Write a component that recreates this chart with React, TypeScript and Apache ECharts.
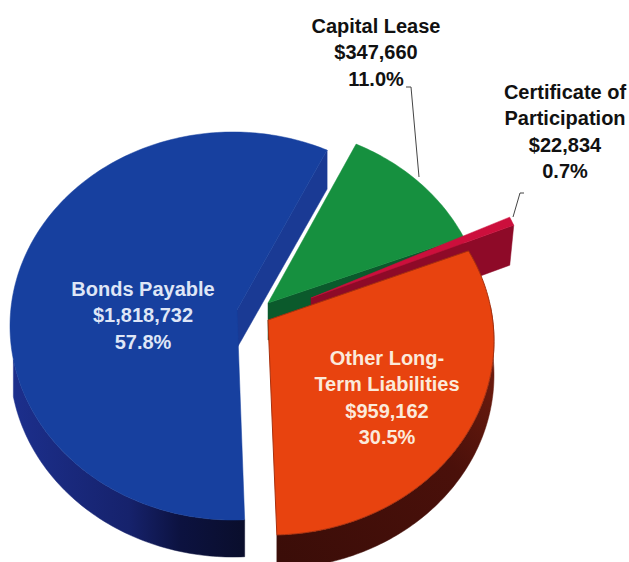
import React, { useEffect, useRef } from "react";
import * as echarts from "echarts";

const names = ["Bonds Payable", "Capital Lease", "Certificate of Participation", "Other Long-Term Liabilities"];
const values = [1818732, 347660, 22834, 959162];
const percents = ["57.8%", "11.0%", "0.7%", "30.5%"];

const START_ANGLE = 87;
const RX = 223;
const RY = 194;

// index follows the data order: ellipse centre, projected apex, depth, small perspective trims
const sliceGeo = [
  { cx: 233, cy: 326, ax: 237, ay: 310, depth: 37, trim: 0, trimEnd: 0 },
  { cx: 262, cy: 320, ax: 268, ay: 303, depth: 37, trim: 0, trimEnd: 0 },
  { cx: 308, cy: 300, ax: 311, ay: 298, depth: 40, trim: 0, trimEnd: 0 },
  { cx: 271, cy: 341, ax: 268, ay: 320, depth: 34, trim: -5, trimEnd: 1.5 },
];
const sliceColors = ["#17409f", "#16903f", "#cc0f3c", "#e8430f"];
const wallColors = ["#1a3a94", "#0b5a2c", "#8e0a28", "#3d0e08"];

const labelBlocks = [
  { x: 143, y: 289, size: 20, color: "#dfe6f6", lines: ["Bonds Payable", "$1,818,732", "57.8%"] },
  { x: 376, y: 26, size: 20, color: "#111111", lines: ["Capital Lease", "$347,660", "11.0%"] },
  { x: 565, y: 92, size: 20, color: "#111111", lines: ["Certificate of", "Participation", "$22,834", "0.7%"] },
  { x: 387, y: 358, size: 20, color: "#fbeadb", lines: ["Other Long-", "Term Liabilities", "$959,162", "30.5%"] },
];

const total = values.reduce((a, b) => a + b, 0);
const spans: [number, number][] = [];
{
  let a = START_ANGLE;
  values.forEach((v) => {
    const s = (v / total) * 360;
    spans.push([a, a + s]);
    a += s;
  });
}

const arc = (g: any, a0: number, a1: number, dy = 0) => {
  const pts: number[][] = [];
  const n = Math.max(2, Math.ceil(Math.abs(a1 - a0)));
  for (let i = 0; i <= n; i++) {
    const t = ((a0 + ((a1 - a0) * i) / n) * Math.PI) / 180;
    pts.push([g.cx + RX * Math.cos(t), g.cy + RY * Math.sin(t) + dy]);
  }
  return pts;
};

const renderSlice = (params: any, api: any) => {
  const i = params.dataIndex;
  api.value(0);
  const g = sliceGeo[i];
  const a0 = spans[i][0] + g.trim;
  const a1 = spans[i][1] + g.trimEnd;
  const top = arc(g, a0, a1);
  const children: any[] = [];
  const poly = (points: number[][], fill: any, stroke?: string) =>
    children.push({
      type: "polygon",
      shape: { points },
      style: { fill, stroke: stroke || fill, lineWidth: stroke ? 1 : 0.5 },
    });

  if (i === 0) {
    // radial wall facing the gap, then rim from the left side down to the bottom
    const corner = top[top.length - 1];
    poly(
      [corner, [corner[0], corner[1] + 39], [g.ax, g.ay + 38], [g.ax, g.ay]],
      wallColors[0]
    );
    const rim = arc(g, 170, a0);
    poly(
      [...rim, ...rim.map((p) => [p[0], p[1] + g.depth]).reverse()],
      new echarts.graphic.LinearGradient(0, 0, 1, 0, [
        { offset: 0, color: "#1c2f8c" },
        { offset: 0.5, color: "#16226c" },
        { offset: 0.72, color: "#0c1240" },
        { offset: 1, color: "#0a0e2c" },
      ])
    );
  } else if (i === 1) {
    const c = top[top.length - 1];
    poly([[g.ax, g.ay], c, [c[0], c[1] + g.depth], [g.ax, g.ay + g.depth]], wallColors[1]);
  } else if (i === 2) {
    const c = top[top.length - 1];
    poly([[g.ax, g.ay], c, [c[0] - 4, c[1] + g.depth], [g.ax, g.ay + g.depth]], wallColors[2]);
  } else {
    const rim = arc(g, 350, a1);
    poly(
      [...rim, ...rim.map((p) => [p[0], p[1] + g.depth]).reverse()],
      new echarts.graphic.LinearGradient(0, 1, 1, 0, [
        { offset: 0, color: "#3a0d08" },
        { offset: 0.6, color: "#4a100a" },
        { offset: 1, color: "#7a2010" },
      ])
    );
  }
  poly([[g.ax, g.ay], ...top], sliceColors[i], i === 3 ? "#a8300e" : undefined);
  return { type: "group", children };
};

const textElements = labelBlocks.flatMap((b) =>
  b.lines.map((line, k) => ({
    type: "text",
    x: b.x,
    y: b.y + k * 26.3,
    z: 10,
    style: {
      text: line,
      fill: b.color,
      font: `bold ${b.size}px "Liberation Sans", Arial, sans-serif`,
      textAlign: "center",
      textVerticalAlign: "middle",
    },
  }))
);

const leaderElements = [
  [[406, 87], [411, 87], [419, 177]],
  [[524, 193], [520, 193], [513, 217]],
].map((points) => ({
  type: "polyline",
  z: 9,
  shape: { points },
  style: { stroke: "#444444", lineWidth: 1, fill: "none" },
}));

export default function App() {
  const ref = useRef<HTMLDivElement>(null);
  useEffect(() => {
    const chart = echarts.init(ref.current!, undefined, { renderer: "svg" });
    chart.setOption({
      animation: false,
      backgroundColor: "#ffffff",
      series: [
        {
          type: "custom",
          coordinateSystem: "none",
          silent: true,
          renderItem: renderSlice,
          data: values.map((v, i) => ({ name: names[i], value: [v, percents[i]] })),
        },
      ],
      graphic: { elements: [...leaderElements, ...textElements] },
    });
    return () => chart.dispose();
  }, []);
  return <div ref={ref} style={{ position: "fixed", left: 0, top: 0, width: 629, height: 562 }} />;
}
